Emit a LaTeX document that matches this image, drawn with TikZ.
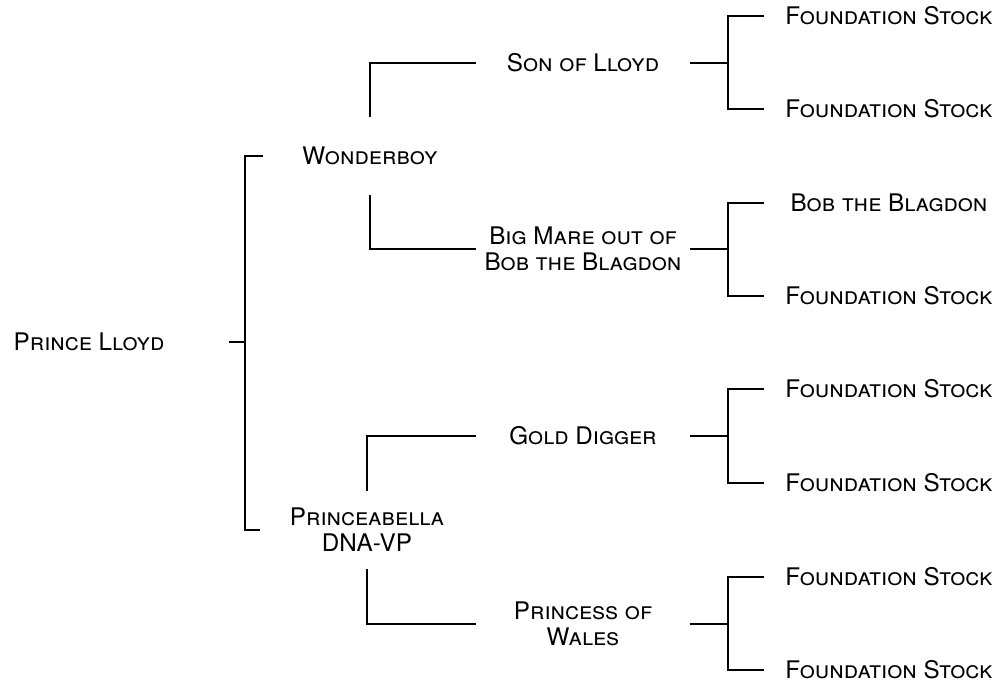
\documentclass[tikz,border=0pt]{standalone}
\usepackage{fontspec}
\setmainfont{TeX Gyre Heros}
\begin{document}
\begin{tikzpicture}[x=0.02cm,y=-0.02cm,line width=0.8pt,
    every text node part/.style={align=center},
    every node/.style={font=\fontsize{13.8}{14.7}\selectfont\scshape,inner sep=0pt},
    sireN/.style={minimum width=5.56cm},
    genA/.style={minimum width=4.26cm,minimum height=1.55cm},
    genB/.style={minimum width=4.24cm},
    genC/.style={minimum width=4.96cm}]
      \useasboundingbox (0,0) rectangle (1000,682);

      \node[sireN] (PrinceN)  at (89,342)  {Prince Lloyd};

      \node[genA]  (WonderN)  at (370,156) {Wonderboy};
      \node[genA]  (PrinceaN) at (367,530) {Princeabella\\DNA-VP};

      \node[genB]  (SonN)     at (583,63)  {Son of Lloyd};
      \node[genB]  (MareN)    at (583,249) {Big Mare out of\\Bob the Blagdon};
      \node[genB]  (GoldN)    at (583,436) {Gold Digger};
      \node[genB]  (WalesN)   at (583,624) {Princess of\\Wales};

      \node[genC]  (FoundAN)  at (889,16)  {Foundation Stock};
      \node[genC]  (FoundBN)  at (889,109) {Foundation Stock};
      \node[genC]  (BobN)     at (889,203) {Bob the Blagdon};
      \node[genC]  (FoundCN)  at (889,296) {Foundation Stock};
      \node[genC]  (FoundDN)  at (889,389) {Foundation Stock};
      \node[genC]  (FoundEN)  at (889,483) {Foundation Stock};
      \node[genC]  (FoundFN)  at (889,577) {Foundation Stock};
      \node[genC]  (FoundGN)  at (889,670) {Foundation Stock};

      \coordinate (PrinceJ) at (245,342);
      \coordinate (SonJ)    at (728,63);
      \coordinate (MareJ)   at (728,249);
      \coordinate (GoldJ)   at (728,436);
      \coordinate (WalesJ)  at (728,624);

      \draw (PrinceN.east)  -- (PrinceJ);
      \draw (WonderN.west)  -| (PrinceJ) |- (PrinceaN.west);

      \draw (WonderN.north)  |- (SonN.west);
      \draw (WonderN.south)  |- (MareN.west);
      \draw (PrinceaN.north) |- (GoldN.west);
      \draw (PrinceaN.south) |- (WalesN.west);

      \draw (SonN.east)   -- (SonJ);
      \draw (FoundAN.west) -| (SonJ) |- (FoundBN.west);
      \draw (MareN.east)  -- (MareJ);
      \draw (BobN.west)    -| (MareJ) |- (FoundCN.west);
      \draw (GoldN.east)  -- (GoldJ);
      \draw (FoundDN.west) -| (GoldJ) |- (FoundEN.west);
      \draw (WalesN.east) -- (WalesJ);
      \draw (FoundFN.west) -| (WalesJ) |- (FoundGN.west);
    \end{tikzpicture}
\end{document}
